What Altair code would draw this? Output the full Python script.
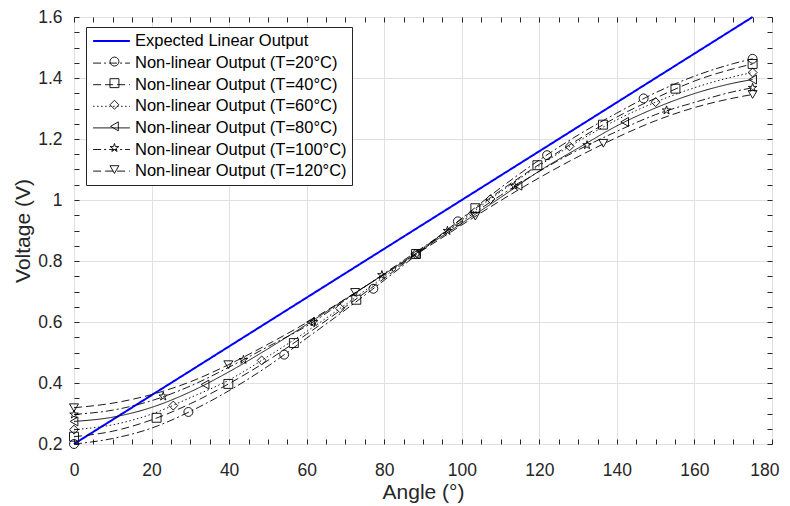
import altair as alt
import pandas as pd

# ---------------- data ----------------
series_names = [
    "Expected Linear Output",
    "Non-linear Output (T=20°C)",
    "Non-linear Output (T=40°C)",
    "Non-linear Output (T=60°C)",
    "Non-linear Output (T=80°C)",
    "Non-linear Output (T=100°C)",
    "Non-linear Output (T=120°C)",
]

expected_angle = [0, 175]
expected_v = [0.2, 1.6]

curve_angle = [0, 10, 20, 30, 40, 50, 60, 70, 80, 90, 100, 110, 120, 130, 140, 150, 160, 170, 175]
v_t20 = [0.200, 0.218, 0.252, 0.307, 0.375, 0.455, 0.547, 0.640, 0.737, 0.837, 0.940, 1.040, 1.131, 1.213, 1.285, 1.352, 1.406, 1.447, 1.463]
v_t40 = [0.224, 0.242, 0.279, 0.332, 0.398, 0.474, 0.560, 0.650, 0.743, 0.841, 0.939, 1.031, 1.117, 1.198, 1.272, 1.334, 1.390, 1.430, 1.446]
v_t60 = [0.247, 0.263, 0.298, 0.352, 0.410, 0.487, 0.569, 0.657, 0.749, 0.842, 0.934, 1.027, 1.113, 1.192, 1.263, 1.321, 1.368, 1.404, 1.418]
v_t80 = [0.274, 0.288, 0.320, 0.371, 0.437, 0.512, 0.592, 0.675, 0.757, 0.840, 0.924, 1.008, 1.095, 1.170, 1.243, 1.302, 1.349, 1.383, 1.395]
v_t100 = [0.297, 0.311, 0.342, 0.390, 0.452, 0.519, 0.587, 0.672, 0.759, 0.845, 0.930, 1.015, 1.094, 1.164, 1.225, 1.280, 1.320, 1.355, 1.368]
v_t120 = [0.319, 0.334, 0.362, 0.404, 0.461, 0.527, 0.598, 0.676, 0.756, 0.836, 0.918, 0.998, 1.073, 1.142, 1.205, 1.260, 1.303, 1.334, 1.346]

m20_angle = [0, 29.5, 54.2, 77.2, 99, 122, 146.9, 175]
m20_v = [0.200, 0.305, 0.493, 0.709, 0.930, 1.147, 1.333, 1.463]
m40_angle = [0, 21.3, 39.8, 56.7, 72.8, 88.2, 103.5, 119.5, 136.4, 155.1, 175]
m40_v = [0.224, 0.286, 0.397, 0.531, 0.673, 0.823, 0.973, 1.114, 1.247, 1.365, 1.446]
m60_angle = [0, 25.6, 48.4, 68.6, 88, 107.4, 127.8, 150, 175]
m60_v = [0.247, 0.326, 0.474, 0.645, 0.823, 1.003, 1.176, 1.321, 1.418]
m80_angle = [0, 33.8, 61, 88, 114.5, 142, 175]
m80_v = [0.274, 0.395, 0.600, 0.823, 1.047, 1.256, 1.395]
m100_angle = [0, 23, 43.7, 61.8, 79.4, 96.3, 113.6, 132.3, 152.8, 175]
m100_v = [0.297, 0.356, 0.476, 0.600, 0.754, 0.899, 1.046, 1.180, 1.294, 1.368]
m120_angle = [0, 39.8, 72.5, 103.5, 136.5, 175]
m120_v = [0.319, 0.460, 0.697, 0.947, 1.186, 1.346]

x_major = [0, 20, 40, 60, 80, 100, 120, 140, 160, 180]
x_minor = [0, 5, 10, 15, 20, 25, 30, 35, 40, 45, 50, 55, 60, 65, 70, 75, 80, 85, 90,
           95, 100, 105, 110, 115, 120, 125, 130, 135, 140, 145, 150, 155, 160, 165, 170, 175, 180]
y_major = [0.2, 0.4, 0.6, 0.8, 1.0, 1.2, 1.4, 1.6]
y_minor = [0.2, 0.25, 0.3, 0.35, 0.4, 0.45, 0.5, 0.55, 0.6, 0.65, 0.7, 0.75, 0.8, 0.85, 0.9,
           0.95, 1.0, 1.05, 1.1, 1.15, 1.2, 1.25, 1.3, 1.35, 1.4, 1.45, 1.5, 1.55, 1.6]

# ---------------- tables ----------------
curves = [v_t20, v_t40, v_t60, v_t80, v_t100, v_t120]
rows = []
for a, v in zip(expected_angle, expected_v):
    rows.append({"series": series_names[0], "angle": a, "v": v})
for name, vals in zip(series_names[1:], curves):
    for a, v in zip(curve_angle, vals):
        rows.append({"series": name, "angle": a, "v": v})
df_lines = pd.DataFrame(rows)

markers = [(m20_angle, m20_v), (m40_angle, m40_v), (m60_angle, m60_v),
           (m80_angle, m80_v), (m100_angle, m100_v), (m120_angle, m120_v)]
prow = []
for name, (aa, vv) in zip(series_names[1:], markers):
    for a, v in zip(aa, vv):
        prow.append({"series": name, "angle": a, "v": v})
df_pts = pd.DataFrame(prow)

# ---------------- styles ----------------
FONT = "Liberation Sans"
DARK = "#262626"
star = "M0,-1L0.2245,-0.309L0.951,-0.309L0.363,0.118L0.588,0.809L0,0.382L-0.588,0.809L-0.363,0.118L-0.951,-0.309L-0.2245,-0.309Z"

xscale = alt.Scale(domain=[0, 180], nice=False, zero=False)
yscale = alt.Scale(domain=[0.2, 1.6], nice=False, zero=False)

line_colors = ["#0000ff"] + ["#000000"] * 6
line_dashes = [[1, 0], [8, 3, 2, 3], [8, 4], [1.5, 2.5], [1, 0], [8, 3, 2, 3], [8, 4]]
line_widths = [2, 0.9, 0.9, 0.9, 0.9, 0.9, 0.9]
marker_shapes = ["circle", "square", "diamond", "triangle-left", star, "triangle-down"]

leg_lines = alt.Legend(
    orient="none", legendX=12, legendY=10, title=None,
    fillColor="white", strokeColor=DARK, padding=5,
    symbolType="M-2.3,0L2.3,0", symbolSize=256, symbolOffset=11.5,
    labelOffset=14.5, labelFontSize=16.5, labelFont=FONT, labelColor="#000000",
    rowPadding=4.6, zindex=1, labelLimit=400,
)
leg_markers = alt.Legend(
    orient="none", legendX=32.2, legendY=36.3, title=None, padding=0,
    symbolSize=80, symbolStrokeColor="#000000", symbolFillColor="transparent",
    symbolStrokeWidth=0.9, labelFontSize=16.5, labelFont=FONT, labelExpr="' '",
    rowPadding=4.6, zindex=2,
)

axis_x_main = alt.Axis(values=x_major, ticks=False, domain=False, grid=True, gridColor="#e0e0e0",
                       labelFlush=False, labelOverlap=False,
                       labelAlign={"condition": {"test": "datum.value >= 180", "value": "right"}, "value": "center"},
                       labelOffset={"condition": {"test": "datum.value >= 180", "value": 7}, "value": 0},
                       labelFontSize=17.5, labelFont=FONT, labelColor=DARK, labelPadding=17,
                       title="Angle (°)", titleFontSize=21, titleFont=FONT, titleFontWeight="normal",
                       titleColor=DARK, titlePadding=3)
axis_y_main = alt.Axis(values=y_major, format="~g", ticks=False, domain=False, grid=True, gridColor="#e0e0e0",
                       labelFlush=False, labelOverlap=False,
                       labelFontSize=17.5, labelFont=FONT, labelColor=DARK, labelPadding=12,
                       title="Voltage (V)", titleFontSize=21, titleFont=FONT, titleFontWeight="normal",
                       titleColor=DARK, titlePadding=4)

def tick_axis(orient, vals):
    return alt.Axis(orient=orient, values=vals, offset=-5, tickSize=5, tickColor=DARK, tickWidth=1,
                    labels=False, domain=False, grid=False, title=None)

lines = alt.Chart(df_lines).mark_line(interpolate="monotone").encode(
    x=alt.X("angle:Q", scale=xscale, axis=axis_x_main),
    y=alt.Y("v:Q", scale=yscale, axis=axis_y_main),
    color=alt.Color("series:N", scale=alt.Scale(domain=series_names, range=line_colors), legend=leg_lines),
    strokeDash=alt.StrokeDash("series:N", scale=alt.Scale(domain=series_names, range=line_dashes), legend=leg_lines),
    strokeWidth=alt.StrokeWidth("series:N", scale=alt.Scale(type="ordinal", domain=series_names, range=line_widths), legend=leg_lines),
)

points = alt.Chart(df_pts).mark_point(filled=False, color="#000000", strokeWidth=0.9, size=80, opacity=1).encode(
    x=alt.X("angle:Q", scale=xscale, axis=tick_axis("top", x_minor)),
    y=alt.Y("v:Q", scale=yscale, axis=tick_axis("right", y_minor)),
    shape=alt.Shape("series:N", scale=alt.Scale(domain=series_names[1:], range=marker_shapes), legend=leg_markers),
)

ticks_layer = alt.Chart(df_pts).mark_point(opacity=0).encode(
    x=alt.X("angle:Q", scale=xscale, axis=tick_axis("bottom", x_minor)),
    y=alt.Y("v:Q", scale=yscale, axis=tick_axis("left", y_minor)),
)

chart = alt.layer(lines, points, ticks_layer).resolve_axis(
    x="independent", y="independent"
).properties(
    width=698, height=427,
    autosize=alt.AutoSizeParams(type="none"),
    padding={"left": 66, "top": 9, "right": 8, "bottom": 60},
    background="white",
).configure_view(stroke=DARK, strokeWidth=1).configure(font=FONT)

chart.save("out.html", embed_options={"renderer": "svg", "actions": False})
